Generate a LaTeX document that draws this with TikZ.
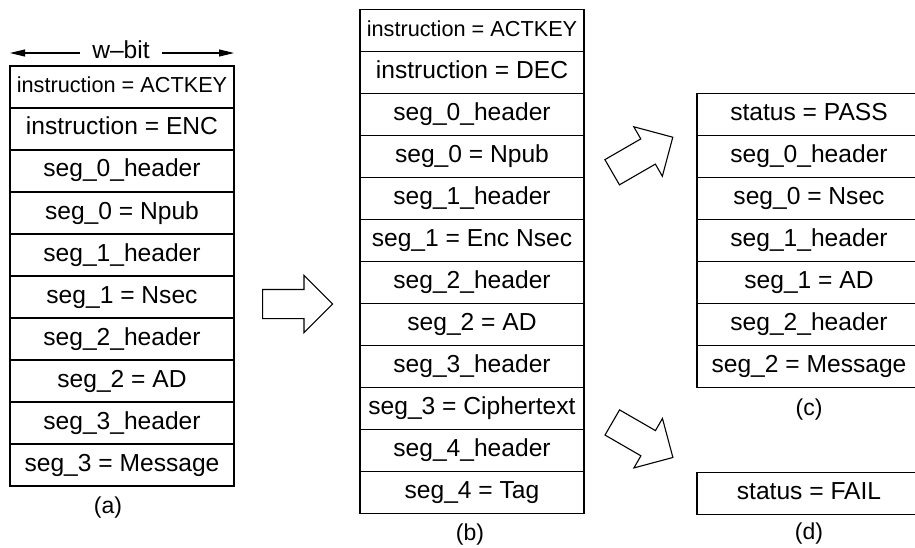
\documentclass[tikz,border=0pt]{standalone}
\usepackage{fontspec}
\setmainfont{Liberation Sans}
\usetikzlibrary{shapes.arrows,arrows.meta}

\tikzset{
  cell/.style={draw, line width=1.2pt, minimum width=224pt, minimum height=42pt,
    inner sep=0pt, text height=17.7pt, text depth=5.7pt,
    font=\fontsize{24.6}{29}\selectfont},
  actkey/.style={font=\fontsize{21.7}{26}\selectfont},
  caption/.style={inner sep=0pt, font=\fontsize{23}{28}\selectfont},
  wlabel/.style={inner xsep=12pt, inner ysep=0pt, text height=17.7pt, text depth=5.7pt,
    font=\fontsize{24.6}{29}\selectfont},
  blockarrow/.style={single arrow, draw, line width=1.1pt, minimum height=70pt,
    inner xsep=0pt, inner ysep=14pt, single arrow head extend=14pt, anchor=tail}
}

\begin{document}
\begin{tikzpicture}[x=1pt,y=-1pt]
\clip (0,0) rectangle (915,548);
% width arrow
\node[wlabel] (wbit) at (121,53) {w--bit};
\coordinate (wl) at (10,53);
\coordinate (wr) at (234,53);
\draw[line width=1.1pt,-{Triangle[length=15pt,width=7pt]}] (wbit) -- (wl);
\draw[line width=1.1pt,-{Triangle[length=15pt,width=7pt]}] (wbit) -- (wr);
% (a) encryption input
\node[cell,actkey] (a1) at (122,87) {instruction = ACTKEY};
\node[cell] (a2) at (122,129) {instruction = ENC};
\node[cell] (a3) at (122,171) {seg\_0\_header};
\node[cell] (a4) at (122,213) {seg\_0 = Npub};
\node[cell] (a5) at (122,255) {seg\_1\_header};
\node[cell] (a6) at (122,297) {seg\_1 = Nsec};
\node[cell] (a7) at (122,339) {seg\_2\_header};
\node[cell] (a8) at (122,381) {seg\_2 = AD};
\node[cell] (a9) at (122,423) {seg\_3\_header};
\node[cell] (a10) at (122,465) {seg\_3 = Message};
\node[caption] (capa) at (108,508) {(a)};
% (b) decryption input
\node[cell,actkey] (b1) at (472,30.5) {instruction = ACTKEY};
\node[cell] (b2) at (472,72.5) {instruction = DEC};
\node[cell] (b3) at (472,114.5) {seg\_0\_header};
\node[cell] (b4) at (472,156.5) {seg\_0 = Npub};
\node[cell] (b5) at (472,198.5) {seg\_1\_header};
\node[cell] (b6) at (472,240.5) {seg\_1 = Enc Nsec};
\node[cell] (b7) at (472,282.5) {seg\_2\_header};
\node[cell] (b8) at (472,324.5) {seg\_2 = AD};
\node[cell] (b9) at (472,366.5) {seg\_3\_header};
\node[cell] (b10) at (472,408.5) {seg\_3 = Ciphertext};
\node[cell] (b11) at (472,450.5) {seg\_4\_header};
\node[cell] (b12) at (472,492.5) {seg\_4 = Tag};
\node[caption] (capb) at (470,535) {(b)};
% (c) pass output
\node[cell] (c1) at (809,114.3) {status = PASS};
\node[cell] (c2) at (809,156.3) {seg\_0\_header};
\node[cell] (c3) at (809,198.3) {seg\_0 = Nsec};
\node[cell] (c4) at (809,240.3) {seg\_1\_header};
\node[cell] (c5) at (809,282.3) {seg\_1 = AD};
\node[cell] (c6) at (809,324.3) {seg\_2\_header};
\node[cell] (c7) at (809,366.3) {seg\_2 = Message};
\node[caption] (capc) at (809,410) {(c)};
% (d) fail output
\node[cell] (d1) at (809,493.7) {status = FAIL};
\node[caption] (capd) at (809,534) {(d)};
% block arrows
\node[blockarrow] (arra) at (262,304) {};
\node[blockarrow,rotate=30] (arrc) at (611.7,172.5) {};
\node[blockarrow,rotate=-30] (arrd) at (611.8,422.2) {};
\end{tikzpicture}
\end{document}
